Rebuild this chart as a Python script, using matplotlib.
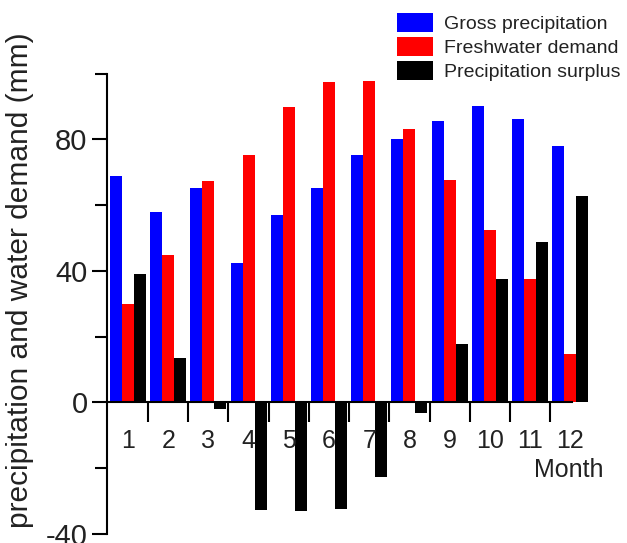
import matplotlib
matplotlib.use('Agg')
import matplotlib.pyplot as plt
import numpy as np

plt.rcParams['font.family'] = ['Liberation Sans', 'DejaVu Sans']
plt.rcParams['axes.unicode_minus'] = False

months = [1, 2, 3, 4, 5, 6, 7, 8, 9, 10, 11, 12]
month_labels = ['1', '2', '3', '4', '5', '6', '7', '8', '9', '10', '11', '12']
gross_precip = [68.9, 58.0, 65.1, 42.3, 57.0, 65.3, 75.1, 80.1, 85.7, 90.0, 86.2, 78.0]
fresh_demand = [29.8, 44.7, 67.3, 75.1, 89.8, 97.5, 97.8, 83.2, 67.5, 52.5, 37.4, 14.8]
precip_surplus = [38.9, 13.4, -2.1, -32.8, -33.0, -32.3, -22.6, -3.1, 17.9, 37.4, 48.7, 62.9]

series_names = ['Gross precipitation', 'Freshwater demand', 'Precipitation surplus']
series_colors = ['#0000ff', '#ff0000', '#000000']

W, H = 627, 543
fig = plt.figure(figsize=(W / 100, H / 100), dpi=100)
ax = fig.add_axes([107 / W, 9 / H, (588.3 - 107) / W, (534 - 73.5) / H])

x = np.array(months, dtype=float)
bw = 0.3
for k, (vals, col) in enumerate(zip([gross_precip, fresh_demand, precip_surplus], series_colors)):
    ax.bar(x + (k - 1) * bw, vals, bw, color=col, linewidth=0, label=series_names[k])

ax.set_xlim(0.478, 12.45)
ax.set_ylim(-40, 100)

for s in ['top', 'right']:
    ax.spines[s].set_visible(False)
ax.spines['left'].set_linewidth(1.5)
ax.spines['bottom'].set_linewidth(1.5)
ax.spines['bottom'].set_position(('data', 0))
ax.spines['bottom'].set_bounds(0.478, 12.05)
ax.spines['left'].set_bounds(-40, 100)

# labels at group centres, tick marks between groups
ax.set_xticks(x)
ax.set_xticklabels(month_labels)
ax.set_xticks(x[:-1] + 0.5, minor=True)
ax.tick_params(axis='x', which='major', length=0, pad=19, labelsize=18, labelcolor='#222222')
ax.tick_params(axis='x', which='minor', direction='out', length=14.5, width=1.5)

ax.set_yticks([-40, 0, 40, 80])
ax.set_yticks([-20, 20, 60, 100], minor=True)
ax.tick_params(axis='y', which='major', length=11, width=1.5, pad=3, labelsize=21, labelcolor='#222222')
ax.tick_params(axis='y', which='minor', length=9, width=1.5)

fig.text(20 / W, 1 - 280 / H, 'precipitation and water demand (mm)', rotation=90,
         ha='center', va='center', fontsize=21.5, color='#222222')
fig.text(569 / W, 1 - 470 / H, 'Month', ha='center', va='center', fontsize=18, color='#222222')

ax.legend(loc='upper left', bbox_to_anchor=(397 / W, 1 - 13 / H), bbox_transform=fig.transFigure,
          frameon=False, fontsize=14, handlelength=1.85, handleheight=1.13,
          handletextpad=0.55, labelspacing=0.2, borderpad=0, borderaxespad=0,
          labelcolor='#222222')

fig.savefig('out.png', dpi=100)
